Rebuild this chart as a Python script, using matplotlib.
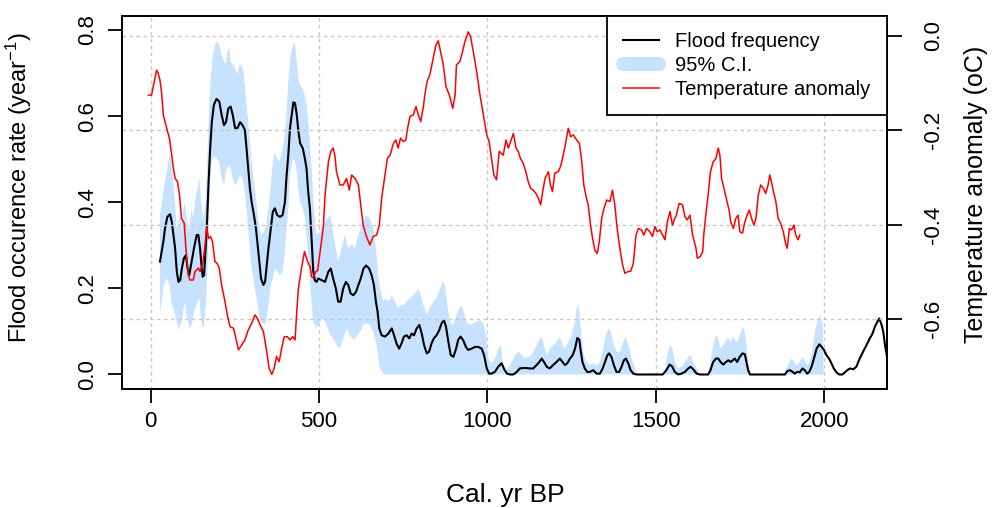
import numpy as np
import matplotlib
matplotlib.use("Agg")
from matplotlib import pyplot as plt
from matplotlib.lines import Line2D

plt.rcParams["font.family"] = ["Liberation Sans", "DejaVu Sans"]
plt.rcParams["axes.unicode_minus"] = False
plt.rcParams["mathtext.fontset"] = "custom"
plt.rcParams["mathtext.rm"] = "Liberation Sans"
plt.rcParams["mathtext.default"] = "regular"

# Flood occurrence rate (black line)
flood_years = [28, 33, 38, 43, 50, 58, 63, 68, 73, 78, 83, 88, 93, 99, 105, 110, 115,
               122, 129, 137, 142, 147, 152, 155, 159, 162, 167, 172, 177, 182, 188, 196,
               204, 211, 218, 224, 231, 238, 244, 251, 258, 266, 273, 280, 285, 290, 295,
               300, 307, 313, 318, 323, 328, 335, 340, 345, 350, 357, 363, 369, 376, 384,
               392, 399, 404, 409, 414, 419, 424, 429, 434, 439, 444, 452, 458, 463, 468,
               473, 478, 483, 488, 493, 498, 508, 518, 528, 535, 542, 550, 557, 564, 572,
               580, 587, 594, 602, 610, 617, 624, 632, 640, 649, 656, 663, 669, 674, 679,
               686, 696, 706, 716, 723, 730, 738, 745, 752, 760, 768, 775, 782, 790, 798,
               805, 812, 820, 827, 834, 841, 849, 857, 864, 871, 877, 884, 891, 899, 907,
               913, 920, 928, 936, 943, 953, 963, 973, 983, 990, 998, 1005, 1012, 1022,
               1032, 1042, 1050, 1058, 1067, 1077, 1087, 1096, 1106, 1116, 1126, 1136,
               1146, 1154, 1161, 1168, 1176, 1185, 1195, 1205, 1215, 1223, 1230, 1237,
               1245, 1253, 1260, 1267, 1273, 1276, 1282, 1289, 1296, 1304, 1314, 1324,
               1334, 1342, 1349, 1356, 1361, 1368, 1375, 1383, 1391, 1398, 1405, 1411,
               1418, 1425, 1433, 1443, 1520, 1527, 1534, 1541, 1549, 1556, 1566, 1576,
               1586, 1596, 1603, 1611, 1621, 1631, 1655, 1662, 1670, 1678, 1685, 1692,
               1700, 1708, 1715, 1722, 1728, 1734, 1741, 1749, 1757, 1764, 1769, 1774,
               1779, 1883, 1890, 1898, 1906, 1912, 1919, 1927, 1935, 1942, 1949, 1955,
               1962, 1969, 1977, 1985, 1992, 1999, 2006, 2014, 2021, 2028, 2036, 2044,
               2054, 2061, 2068, 2076, 2086, 2095, 2105, 2115, 2125, 2135, 2143, 2150,
               2157, 2163, 2170, 2175, 2180, 2185]
flood_rate = [0.262, 0.285, 0.308, 0.339, 0.366, 0.372, 0.355, 0.324, 0.293, 0.239, 0.215,
              0.219, 0.246, 0.270, 0.277, 0.246, 0.231, 0.262, 0.293, 0.324, 0.324, 0.293,
              0.246, 0.227, 0.231, 0.270, 0.339, 0.440, 0.525, 0.587, 0.626, 0.640, 0.634,
              0.603, 0.579, 0.586, 0.618, 0.622, 0.603, 0.572, 0.572, 0.586, 0.579, 0.568,
              0.525, 0.479, 0.432, 0.401, 0.370, 0.339, 0.301, 0.262, 0.223, 0.208, 0.215,
              0.254, 0.293, 0.339, 0.378, 0.386, 0.370, 0.366, 0.370, 0.401, 0.463, 0.510,
              0.572, 0.603, 0.632, 0.630, 0.603, 0.564, 0.537, 0.525, 0.502, 0.479, 0.424,
              0.386, 0.316, 0.240, 0.218, 0.215, 0.223, 0.219, 0.215, 0.239, 0.246, 0.223,
              0.200, 0.169, 0.169, 0.200, 0.215, 0.208, 0.188, 0.184, 0.192, 0.208, 0.223,
              0.246, 0.253, 0.246, 0.231, 0.208, 0.169, 0.146, 0.107, 0.091, 0.088, 0.095,
              0.107, 0.091, 0.072, 0.060, 0.072, 0.088, 0.091, 0.084, 0.095, 0.091, 0.107,
              0.115, 0.095, 0.068, 0.049, 0.053, 0.072, 0.084, 0.091, 0.103, 0.119, 0.126,
              0.111, 0.076, 0.045, 0.041, 0.060, 0.080, 0.088, 0.080, 0.064, 0.057, 0.060,
              0.064, 0.064, 0.060, 0.045, 0.014, 0.002, 0.002, 0.006, 0.018, 0.026, 0.012,
              0.002, 0.0, 0.0, 0.006, 0.014, 0.015, 0.015, 0.014, 0.014, 0.022, 0.029,
              0.037, 0.029, 0.018, 0.014, 0.022, 0.029, 0.037, 0.029, 0.022, 0.026, 0.037,
              0.045, 0.060, 0.085, 0.080, 0.060, 0.029, 0.014, 0.006, 0.006, 0.010, 0.002,
              0.002, 0.014, 0.029, 0.045, 0.049, 0.041, 0.022, 0.006, 0.006, 0.018, 0.033,
              0.037, 0.026, 0.010, 0.002, 0.0, 0.0, 0.006, 0.014, 0.023, 0.018, 0.006, 0.0,
              0.002, 0.006, 0.014, 0.018, 0.012, 0.002, 0.0, 0.0, 0.010, 0.029, 0.037,
              0.037, 0.029, 0.023, 0.029, 0.033, 0.029, 0.033, 0.037, 0.029, 0.041, 0.049,
              0.047, 0.029, 0.010, 0.0, 0.0, 0.008, 0.010, 0.006, 0.002, 0.006, 0.005,
              0.014, 0.010, 0.002, 0.006, 0.018, 0.037, 0.060, 0.070, 0.064, 0.057, 0.045,
              0.037, 0.026, 0.014, 0.005, 0.0, 0.0, 0.005, 0.010, 0.014, 0.012, 0.018,
              0.037, 0.053, 0.068, 0.084, 0.095, 0.111, 0.122, 0.130, 0.115, 0.099, 0.068,
              0.045]

# 95% confidence interval, upper bound
ci_upper_years = [28, 33, 38, 46, 53, 58, 63, 68, 73, 78, 83, 88, 93, 97, 102, 107, 112,
                  117, 122, 127, 132, 139, 145, 149, 155, 159, 165, 169, 173, 178, 184,
                  191, 198, 204, 211, 218, 224, 228, 234, 238, 244, 251, 258, 264, 270,
                  277, 283, 290, 295, 300, 307, 313, 318, 323, 330, 337, 343, 350, 357,
                  363, 369, 376, 382, 389, 396, 402, 409, 416, 424, 429, 434, 439, 444,
                  451, 458, 463, 468, 473, 478, 483, 488, 493, 503, 518, 533, 543, 557,
                  567, 577, 587, 597, 607, 617, 627, 637, 651, 661, 669, 676, 683, 691,
                  699, 706, 716, 726, 735, 742, 752, 760, 770, 780, 788, 795, 802, 810,
                  820, 829, 839, 849, 859, 867, 874, 881, 889, 899, 908, 916, 923, 930,
                  938, 948, 958, 968, 978, 988, 996, 1002, 1012, 1022, 1032, 1040, 1045,
                  1052, 1062, 1072, 1082, 1092, 1101, 1111, 1121, 1131, 1141, 1151, 1161,
                  1168, 1176, 1185, 1195, 1205, 1215, 1223, 1230, 1240, 1250, 1260, 1267,
                  1273, 1279, 1286, 1294, 1304, 1314, 1324, 1334, 1344, 1352, 1359, 1365,
                  1373, 1383, 1393, 1403, 1411, 1418, 1428, 1438, 1443, 1527, 1532, 1541,
                  1549, 1556, 1566, 1576, 1586, 1596, 1603, 1611, 1621, 1631, 1655, 1662,
                  1670, 1678, 1685, 1692, 1700, 1708, 1715, 1722, 1728, 1735, 1741, 1749,
                  1757, 1764, 1769, 1774, 1779, 1883, 1888, 1896, 1903, 1910, 1917, 1927,
                  1935, 1942, 1949, 1957, 1965, 1972, 1979, 1987, 1995, 1998]
ci_upper = [0.370, 0.393, 0.424, 0.463, 0.494, 0.510, 0.494, 0.440, 0.393, 0.339, 0.355,
            0.370, 0.332, 0.386, 0.397, 0.370, 0.332, 0.355, 0.386, 0.363, 0.401, 0.432,
            0.455, 0.417, 0.363, 0.370, 0.417, 0.510, 0.603, 0.680, 0.734, 0.765, 0.773,
            0.765, 0.742, 0.727, 0.719, 0.750, 0.758, 0.727, 0.719, 0.711, 0.696, 0.719,
            0.719, 0.696, 0.641, 0.587, 0.541, 0.494, 0.448, 0.409, 0.370, 0.339, 0.324,
            0.332, 0.347, 0.386, 0.440, 0.494, 0.517, 0.502, 0.494, 0.510, 0.541, 0.587,
            0.680, 0.742, 0.769, 0.765, 0.727, 0.688, 0.672, 0.665, 0.649, 0.626, 0.587,
            0.541, 0.486, 0.409, 0.355, 0.324, 0.332, 0.355, 0.370, 0.324, 0.262, 0.293,
            0.324, 0.293, 0.301, 0.293, 0.324, 0.347, 0.370, 0.363, 0.339, 0.293, 0.231,
            0.192, 0.169, 0.177, 0.169, 0.184, 0.169, 0.153, 0.161, 0.161, 0.169, 0.177,
            0.184, 0.192, 0.200, 0.184, 0.161, 0.138, 0.153, 0.169, 0.177, 0.200, 0.215,
            0.208, 0.161, 0.122, 0.115, 0.138, 0.153, 0.161, 0.146, 0.122, 0.115, 0.119,
            0.122, 0.126, 0.119, 0.091, 0.037, 0.026, 0.037, 0.060, 0.068, 0.029, 0.006,
            0.014, 0.029, 0.045, 0.053, 0.045, 0.037, 0.041, 0.045, 0.060, 0.076, 0.088,
            0.068, 0.045, 0.060, 0.068, 0.076, 0.088, 0.068, 0.060, 0.076, 0.091, 0.122,
            0.165, 0.146, 0.091, 0.045, 0.029, 0.022, 0.026, 0.022, 0.029, 0.060, 0.091,
            0.107, 0.103, 0.076, 0.053, 0.053, 0.076, 0.088, 0.068, 0.037, 0.014, 0.0,
            0.0, 0.037, 0.068, 0.060, 0.029, 0.014, 0.018, 0.029, 0.041, 0.045, 0.029,
            0.014, 0.0, 0.0, 0.029, 0.068, 0.091, 0.084, 0.060, 0.068, 0.080, 0.084,
            0.076, 0.088, 0.080, 0.076, 0.091, 0.111, 0.099, 0.068, 0.029, 0.0, 0.0,
            0.014, 0.029, 0.037, 0.029, 0.022, 0.029, 0.041, 0.033, 0.022, 0.029, 0.060,
            0.099, 0.122, 0.138, 0.122, 0.0]

# 95% confidence interval, lower bound
ci_lower_years = [28, 33, 38, 46, 53, 58, 63, 68, 73, 78, 83, 88, 93, 97, 102, 107, 112,
                  117, 122, 127, 132, 139, 145, 149, 155, 159, 165, 169, 173, 177, 181,
                  188, 196, 204, 211, 218, 224, 231, 238, 244, 251, 258, 266, 273, 280,
                  285, 290, 295, 300, 307, 313, 320, 325, 330, 337, 343, 350, 357, 363,
                  369, 376, 384, 392, 399, 404, 409, 414, 422, 429, 434, 439, 444, 452,
                  458, 463, 468, 473, 483, 493, 503, 513, 523, 533, 543, 552, 562, 572,
                  582, 592, 602, 612, 622, 631, 641, 651, 661, 671, 676, 681, 691, 701,
                  1998]
ci_lower = [0.146, 0.169, 0.200, 0.223, 0.215, 0.200, 0.161, 0.153, 0.138, 0.122, 0.103,
            0.115, 0.122, 0.146, 0.169, 0.138, 0.122, 0.107, 0.115, 0.138, 0.153, 0.169,
            0.177, 0.138, 0.107, 0.115, 0.169, 0.246, 0.355, 0.448, 0.494, 0.506, 0.502,
            0.494, 0.455, 0.440, 0.471, 0.486, 0.479, 0.455, 0.440, 0.448, 0.463, 0.455,
            0.424, 0.386, 0.339, 0.293, 0.246, 0.215, 0.184, 0.153, 0.130, 0.122, 0.115,
            0.122, 0.161, 0.208, 0.223, 0.246, 0.239, 0.231, 0.239, 0.285, 0.339, 0.386,
            0.463, 0.502, 0.494, 0.471, 0.432, 0.401, 0.386, 0.363, 0.324, 0.277, 0.215,
            0.122, 0.107, 0.122, 0.130, 0.115, 0.091, 0.084, 0.068, 0.060, 0.084, 0.107,
            0.091, 0.080, 0.088, 0.099, 0.115, 0.119, 0.115, 0.099, 0.068, 0.037, 0.014,
            0.002, 0.0, 0.0]

# Temperature anomaly (red line, right axis)
temp_years = [-6, 3, 8, 13, 18, 23, 28, 33, 38, 48, 56, 63, 68, 73, 80, 86, 92, 100, 105,
              112, 117, 127, 132, 142, 147, 155, 162, 167, 172, 178, 184, 191, 198, 204,
              211, 221, 228, 236, 246, 251, 261, 270, 280, 290, 300, 310, 317, 325, 335,
              345, 352, 360, 367, 374, 382, 389, 397, 406, 414, 422, 429, 434, 439, 448,
              457, 466, 474, 478, 483, 490, 496, 503, 508, 513, 518, 528, 535, 542, 547,
              552, 562, 572, 582, 590, 597, 607, 617, 624, 631, 641, 651, 661, 671, 679,
              686, 696, 703, 711, 721, 728, 735, 742, 750, 758, 762, 770, 780, 788, 795,
              802, 810, 814, 821, 829, 839, 847, 854, 861, 869, 877, 887, 897, 904, 908,
              918, 926, 933, 943, 950, 958, 968, 978, 988, 998, 1005, 1012, 1019, 1027,
              1035, 1047, 1055, 1062, 1069, 1077, 1085, 1092, 1098, 1106, 1114, 1121,
              1128, 1136, 1144, 1151, 1158, 1164, 1171, 1181, 1187, 1193, 1200, 1210,
              1217, 1225, 1233, 1240, 1247, 1255, 1265, 1273, 1279, 1286, 1294, 1299,
              1306, 1312, 1319, 1326, 1332, 1339, 1346, 1354, 1364, 1371, 1378, 1385,
              1393, 1401, 1408, 1418, 1425, 1433, 1441, 1448, 1457, 1464, 1472, 1482,
              1490, 1497, 1504, 1512, 1520, 1527, 1534, 1542, 1549, 1556, 1561, 1569,
              1579, 1586, 1593, 1601, 1609, 1619, 1623, 1631, 1639, 1642, 1648, 1655,
              1662, 1670, 1678, 1685, 1690, 1695, 1702, 1710, 1718, 1722, 1730, 1737,
              1744, 1749, 1757, 1764, 1771, 1777, 1784, 1791, 1797, 1804, 1811, 1819,
              1826, 1833, 1838, 1843, 1848, 1856, 1863, 1870, 1878, 1886, 1890, 1896,
              1903, 1910, 1915, 1922, 1927]
temp_anom = [-0.126, -0.126, -0.108, -0.090, -0.073, -0.080, -0.094, -0.122, -0.168,
             -0.196, -0.217, -0.253, -0.281, -0.302, -0.309, -0.337, -0.387, -0.397,
             -0.450, -0.507, -0.517, -0.517, -0.499, -0.492, -0.499, -0.482, -0.443,
             -0.404, -0.429, -0.425, -0.436, -0.478, -0.482, -0.492, -0.528, -0.563,
             -0.591, -0.616, -0.619, -0.633, -0.665, -0.655, -0.644, -0.623, -0.609,
             -0.591, -0.598, -0.612, -0.626, -0.669, -0.704, -0.717, -0.704, -0.679,
             -0.690, -0.662, -0.637, -0.637, -0.644, -0.637, -0.644, -0.584, -0.535,
             -0.492, -0.457, -0.478, -0.490, -0.510, -0.513, -0.500, -0.497, -0.460,
             -0.432, -0.404, -0.337, -0.267, -0.245, -0.238, -0.253, -0.288, -0.316,
             -0.316, -0.302, -0.327, -0.295, -0.302, -0.316, -0.358, -0.401, -0.425,
             -0.443, -0.425, -0.422, -0.401, -0.344, -0.295, -0.260, -0.253, -0.228,
             -0.221, -0.238, -0.217, -0.224, -0.221, -0.200, -0.171, -0.168, -0.150,
             -0.168, -0.182, -0.150, -0.126, -0.097, -0.083, -0.048, -0.020, -0.011,
             -0.034, -0.062, -0.108, -0.126, -0.154, -0.126, -0.062, -0.055, -0.034,
             -0.013, 0.008, -0.002, -0.034, -0.076, -0.126, -0.168, -0.210, -0.224,
             -0.260, -0.295, -0.305, -0.245, -0.253, -0.221, -0.238, -0.224, -0.207,
             -0.238, -0.246, -0.260, -0.270, -0.288, -0.309, -0.323, -0.327, -0.334,
             -0.344, -0.358, -0.330, -0.302, -0.288, -0.316, -0.330, -0.291, -0.288,
             -0.277, -0.253, -0.224, -0.196, -0.214, -0.210, -0.221, -0.228, -0.260,
             -0.316, -0.344, -0.358, -0.401, -0.429, -0.454, -0.461, -0.436, -0.387,
             -0.365, -0.348, -0.351, -0.327, -0.358, -0.408, -0.450, -0.485, -0.503,
             -0.499, -0.499, -0.482, -0.422, -0.408, -0.411, -0.422, -0.408, -0.415,
             -0.425, -0.404, -0.415, -0.411, -0.422, -0.432, -0.394, -0.372, -0.401,
             -0.387, -0.380, -0.355, -0.358, -0.383, -0.390, -0.380, -0.422, -0.450,
             -0.471, -0.468, -0.457, -0.422, -0.380, -0.337, -0.288, -0.267, -0.260,
             -0.238, -0.253, -0.302, -0.323, -0.348, -0.372, -0.394, -0.408, -0.387,
             -0.380, -0.415, -0.418, -0.394, -0.380, -0.369, -0.387, -0.401, -0.387,
             -0.337, -0.316, -0.323, -0.334, -0.316, -0.295, -0.309, -0.327, -0.351,
             -0.387, -0.397, -0.415, -0.443, -0.450, -0.408, -0.411, -0.401, -0.422,
             -0.432, -0.422]

year_ticks = [0, 500, 1000, 1500, 2000]
flood_ticks = [0.0, 0.2, 0.4, 0.6, 0.8]
temp_ticks = [0.0, -0.2, -0.4, -0.6]

ci_color = "#C6E2FF"
grid_color = "#C8C8C8"
grid_style = (0, (2.5, 2.5))

fig = plt.figure(figsize=(9.92, 5.08), dpi=100)
ax = fig.add_axes([0.123, 0.234, 0.771, 0.735])
ax2 = ax.twinx()

# confidence band as one closed polygon
band_x = np.concatenate([ci_upper_years, ci_lower_years[::-1]])
band_y = np.concatenate([ci_upper, ci_lower[::-1]])
ax.fill(band_x, band_y, color=ci_color, lw=0, zorder=1)
ax.plot(flood_years, flood_rate, color="black", lw=1.5, zorder=3)

ax.set_xlim(-84.6, 2185.5)
ax.set_ylim(-0.034, 0.833)
ax.set_xticks(year_ticks)
ax.set_yticks(flood_ticks)
ax.set_xticklabels([str(v) for v in year_ticks])
ax.set_yticklabels(["%.1f" % v for v in flood_ticks])
for x in year_ticks:
    ax.axvline(x, color=grid_color, lw=1, ls=grid_style, zorder=0)

ax2.plot(temp_years, temp_anom, color="red", lw=1.1, zorder=3)
ax2.set_ylim(-0.748, 0.042)
ax2.set_yticks(temp_ticks)
ax2.set_yticklabels(["%.1f" % v for v in temp_ticks])
for t in temp_ticks:
    ax2.axhline(t, color=grid_color, lw=1, ls=grid_style, zorder=0)

for a in (ax, ax2):
    for s in a.spines.values():
        s.set_linewidth(1.3)
    a.tick_params(length=10, width=1.3, labelsize=16, pad=6)
ax.tick_params(axis="y", labelrotation=90, pad=7)
ax2.tick_params(axis="y", labelrotation=90, length=11, pad=15)
for lab in ax.get_yticklabels() + ax2.get_yticklabels():
    lab.set_va("center")

fig.text(0.509, 0.025, "Cal. yr BP", ha="center", va="center", fontsize=19)
fig.text(0.019, 0.63, "Flood occurence rate (year$^{-1}$)", rotation=90,
         ha="center", va="center", fontsize=17)
fig.text(0.984, 0.618, "Temperature anomaly (oC)", rotation=90,
         ha="center", va="center", fontsize=18)

handles = [Line2D([], [], color="black", lw=1.5),
           Line2D([], [], color=ci_color, lw=10, solid_capstyle="round"),
           Line2D([], [], color="red", lw=1.1)]
leg = ax2.legend(handles, ["Flood frequency", "95% C.I.", "Temperature anomaly"],
                 loc="upper right", bbox_to_anchor=(1, 1), borderaxespad=0,
                 fontsize=14.5, frameon=True, fancybox=False, handlelength=1.8,
                 handletextpad=0.8, labelspacing=0.25, borderpad=0.8)
leg.get_frame().set_edgecolor("black")
leg.get_frame().set_linewidth(1.3)
leg.get_frame().set_alpha(1)

fig.savefig("out.png", dpi=100)
